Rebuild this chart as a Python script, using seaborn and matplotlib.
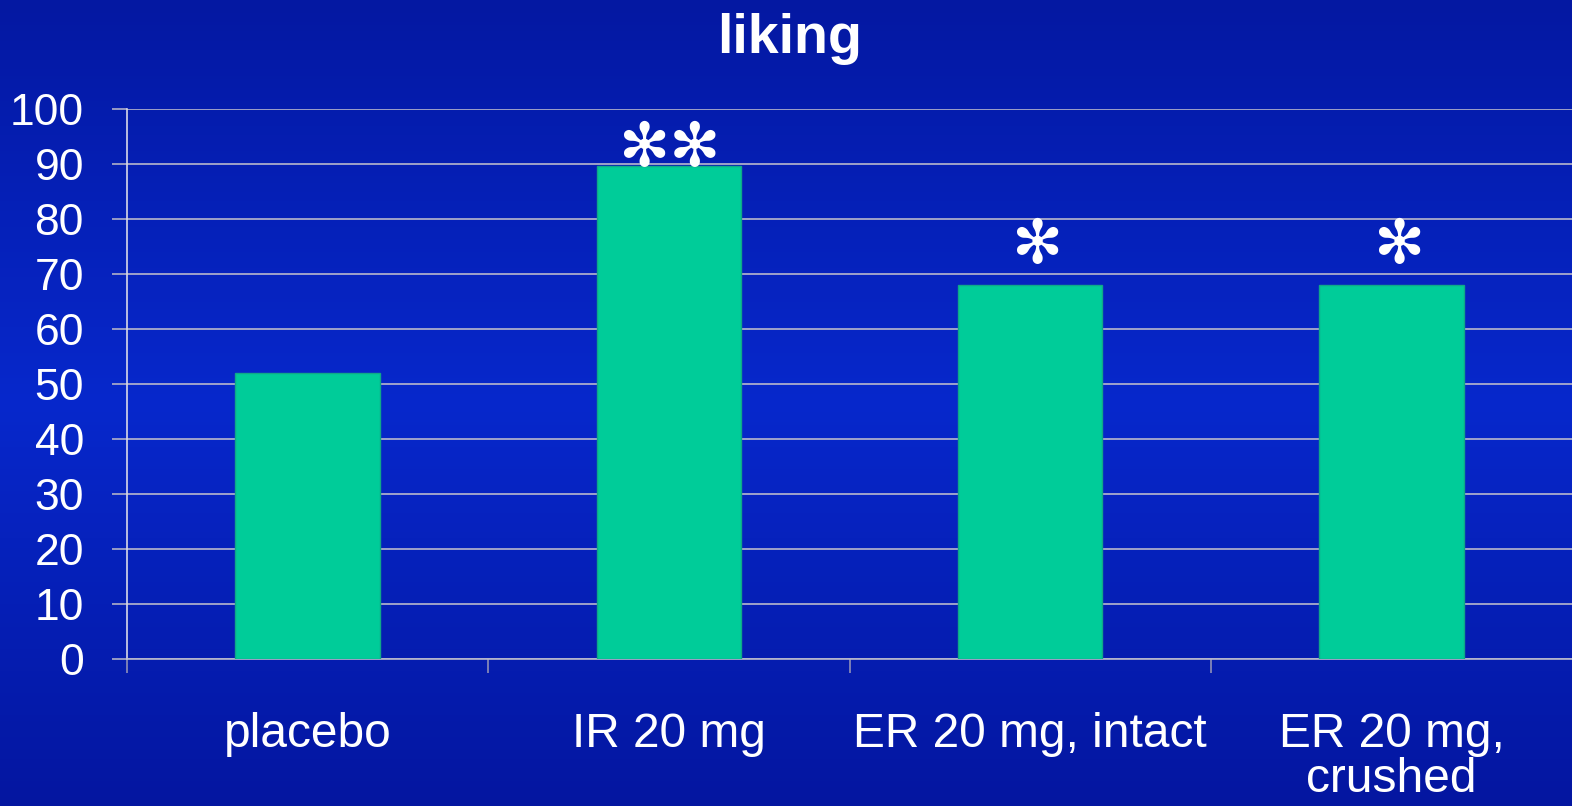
import matplotlib
matplotlib.use("Agg")
import matplotlib.pyplot as plt
import numpy as np
import seaborn as sns
import pandas as pd
from matplotlib.colors import LinearSegmentedColormap

# values
categories = ["placebo", "IR 20 mg", "ER 20 mg, intact", "ER 20 mg,\ncrushed"]
liking = [52, 89.6, 68, 68]
stars = ["", "✻✻", "✻", "✻"]
yticks = [0, 10, 20, 30, 40, 50, 60, 70, 80, 90, 100]

sns.set_style("white")
plt.rcParams['font.family'] = ['Liberation Sans', 'DejaVu Sans']

df = pd.DataFrame({"group": categories, "liking": liking})

fig = plt.figure(figsize=(15.72, 8.06), dpi=100)

# blue slide background, brighter in the middle
bg = fig.add_axes([0, 0, 1, 1], zorder=-10)
cmap = LinearSegmentedColormap.from_list("slide", ["#0418a2", "#0728cc", "#0416a0"])
grad = np.linspace(0, 1, 256).reshape(-1, 1)
bg.imshow(grad, aspect="auto", cmap=cmap, extent=[0, 1, 0, 1])
bg.set_axis_off()

ax = fig.add_axes([0.0808, 0.1824, 0.9192, 0.6824])
ax.set_facecolor("none")
sns.barplot(x="group", y="liking", data=df, color="#00cc99", width=0.4,
            edgecolor="#10a888", linewidth=1, saturation=1, ax=ax, zorder=3)

ax.set_ylim(0, 100)
ax.set_xlim(-0.5, 3.5)
ax.set_yticks(yticks)
ax.set_yticklabels([str(v) for v in yticks], fontsize=32, color="white")
ax.set_xticks(range(len(categories)))
ax.set_xticklabels(categories, fontsize=34.5, color="white", linespacing=1.02)
ax.set_xticks([-0.5, 0.5, 1.5, 2.5], minor=True)
ax.tick_params(axis="x", which="major", bottom=False, length=0, pad=38)
ax.tick_params(axis="x", which="minor", bottom=True, length=10, width=1.2,
               color="#9090b8", direction="out")
ax.tick_params(axis="y", left=True, length=11, width=1.2, color="#b0b0c8",
               direction="out", pad=20)
ax.set_xlabel("")
ax.set_ylabel("")

ax.grid(axis="y", color="#b8b8cc", linewidth=1.2, zorder=0)
ax.set_axisbelow(True)
for s in ["top", "right"]:
    ax.spines[s].set_visible(False)
ax.spines["left"].set_color("#d8d8e8")
ax.spines["left"].set_linewidth(1.2)
ax.spines["bottom"].set_color("#b8b8cc")
ax.spines["bottom"].set_linewidth(1.2)

# significance marks
for i, (val, s) in enumerate(zip(liking, stars)):
    if not s:
        continue
    off = 12 if len(s) > 1 else 28
    dx = 0 if len(s) > 1 else 5
    ax.annotate(s, xy=(i, val), xytext=(dx, off), textcoords="offset points",
                ha="center", va="center", fontsize=44, color="white",
                family=["DejaVu Sans"], zorder=5, annotation_clip=False)

fig.text(0.502, 0.952, "liking", ha="center", va="center", fontsize=40,
         fontweight="bold", color="white")

fig.savefig("out.png", dpi=100)
